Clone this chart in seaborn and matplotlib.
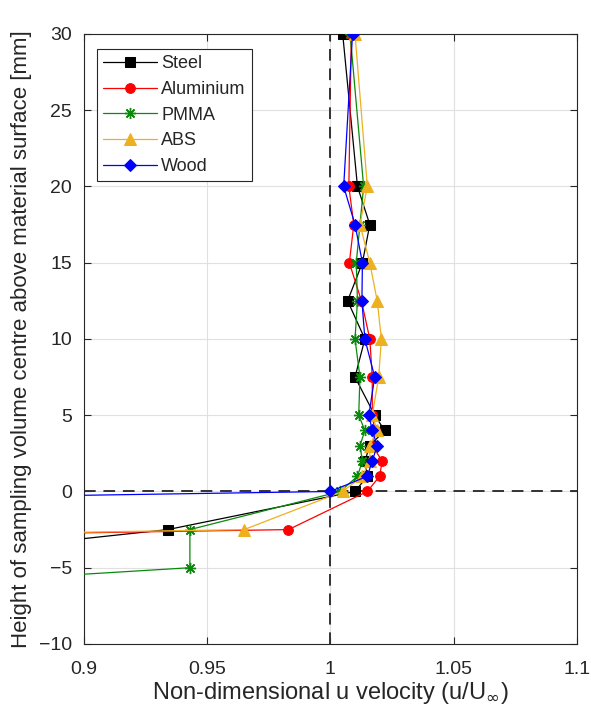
import numpy as np
import pandas as pd
import matplotlib
matplotlib.use("Agg")
import matplotlib.pyplot as plt
import seaborn as sns

heights = [30, 20, 17.5, 15, 12.5, 10, 7.5, 5, 4, 3, 2, 1, 0, -2.5, -5]

steel_y = heights
steel_u = [1.005, 1.011, 1.016, 1.013, 1.007, 1.014, 1.010, 1.018, 1.022, 1.016, 1.014, 1.015, 1.010, 0.934, 0.79]

alu_y = heights
alu_u = [1.0085, 1.0075, 1.0095, 1.0077, 1.0126, 1.016, 1.017, 1.017, 1.018, 1.017, 1.021, 1.020, 1.015, 0.983, 0.0]

pmma_y = [30, 20, 17.5, 15, 12.5, 10, 7.5, 5, 4, 3, 2, 1, 0, -2.5, -5, -7.5]
pmma_u = [1.008, 1.0135, 1.012, 1.0105, 1.011, 1.010, 1.012, 1.0115, 1.014, 1.012, 1.013, 1.011, 1.004, 0.943, 0.943, 0.69]

abs_y = heights
abs_u = [1.010, 1.015, 1.012, 1.016, 1.019, 1.0207, 1.0196, 1.017, 1.019, 1.016, 1.016, 1.013, 1.005, 0.965, 0.0]

wood_y = [30, 20, 17.5, 15, 12.5, 10, 7.5, 5, 4, 3, 2, 1, 0, -2.5]
wood_u = [1.009, 1.0054, 1.010, 1.013, 1.0128, 1.014, 1.018, 1.0156, 1.017, 1.019, 1.017, 1.015, 1.000, 0.0]

series = [
    ("Steel", steel_u, steel_y, "black", "s", 6.5),
    ("Aluminium", alu_u, alu_y, "#ff0000", "o", 7),
    ("PMMA", pmma_u, pmma_y, "#0a8a0a", (8, 2, 0), 8),
    ("ABS", abs_u, abs_y, "#EDB120", "^", 8),
    ("Wood", wood_u, wood_y, "#0000ff", "D", 6),
]

xticks = [0.9, 0.95, 1.0, 1.05, 1.1]
xticklabels = ["0.9", "0.95", "1", "1.05", "1.1"]
yticks = [-10, -5, 0, 5, 10, 15, 20, 25, 30]

sns.set_theme(style="white")
plt.rcParams["font.family"] = ["Liberation Sans", "DejaVu Sans"]

fig = plt.figure(figsize=(5.91, 7.2), dpi=100)
ax = fig.add_axes([0.142, 0.1056, 0.834, 0.8472])

ax.axvline(1.0, color="#333333", linestyle=(0, (6, 4)), linewidth=1.4, zorder=1)
ax.axhline(0.0, color="#333333", linestyle=(0, (6, 4)), linewidth=1.4, zorder=1)

for name, u, y, c, m, ms in series:
    df = pd.DataFrame({"u": u, "y": y})
    kw = dict(markeredgecolor=c, markerfacecolor=c)
    if m == (8, 2, 0):
        kw["markeredgewidth"] = 1.0
    sns.lineplot(data=df, x="u", y="y", sort=False, estimator=None, ax=ax,
                 color=c, marker=m, markersize=ms, linewidth=0.9,
                 label=name, zorder=3, **kw)

ax.set_xlim(0.9, 1.1)
ax.set_ylim(-10, 30)
ax.set_xticks(xticks)
ax.set_xticklabels(xticklabels)
ax.set_yticks(yticks)
ax.grid(True, color="#e0e0e0", linewidth=0.8)
ax.set_axisbelow(True)
for s in ax.spines.values():
    s.set_visible(True)
    s.set_color("#262626")
    s.set_linewidth(0.8)
ax.tick_params(direction="in", length=5, width=0.8, labelsize=14, colors="#262626",
               top=True, right=True, bottom=True, left=True)
ax.tick_params(axis="x", pad=12)
ax.tick_params(axis="y", pad=8.5)
ax.set_xlabel("Non-dimensional u velocity (u/U$_{\\infty}$)", fontsize=17, color="#262626", labelpad=2)
ax.set_ylabel("Height of sampling volume centre above material surface [mm]", fontsize=16,
              color="#262626", labelpad=5)

leg = ax.legend(loc="upper left", bbox_to_anchor=(0.027, 0.975), fontsize=13,
                frameon=True, fancybox=False, edgecolor="#262626", framealpha=1,
                handlelength=3.0, borderpad=0.33, labelspacing=0.48, handletextpad=0.22,
                borderaxespad=0.0)
leg.get_frame().set_linewidth(0.8)

fig.savefig("out.png", dpi=100)
